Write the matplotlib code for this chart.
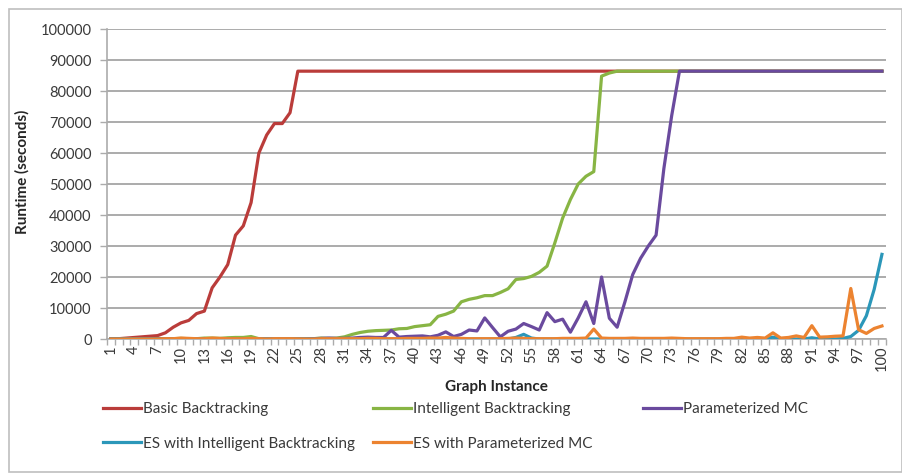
import matplotlib
matplotlib.use("Agg")
import matplotlib.pyplot as plt
from matplotlib.patches import Rectangle

plt.rcParams['font.family'] = ['Lato', 'DejaVu Sans']

# graph instances 1..100
instances = list(range(1, 101))

basic_bt = [
    0, 100, 300, 500, 700, 900, 1100, 2000, 3800, 5200,
    6000, 8200, 9000, 16500, 20000, 24000, 33500, 36500, 44000, 60000,
    65800, 69500, 69500, 73000, 86400, 86400, 86400, 86400, 86400, 86400,
    86400, 86400, 86400, 86400, 86400, 86400, 86400, 86400, 86400, 86400,
    86400, 86400, 86400, 86400, 86400, 86400, 86400, 86400, 86400, 86400,
    86400, 86400, 86400, 86400, 86400, 86400, 86400, 86400, 86400, 86400,
    86400, 86400, 86400, 86400, 86400, 86400, 86400, 86400, 86400, 86400,
    86400, 86400, 86400, 86400, 86400, 86400, 86400, 86400, 86400, 86400,
    86400, 86400, 86400, 86400, 86400, 86400, 86400, 86400, 86400, 86400,
    86400, 86400, 86400, 86400, 86400, 86400, 86400, 86400, 86400, 86400,
]

intelligent_bt = [
    0, 0, 50, 100, 100, 100, 150, 100, 100, 200,
    100, 100, 300, 300, 200, 400, 500, 500, 800, 100,
    0, 50, 50, 50, 50, 0, 100, 300, 200, 300,
    700, 1500, 2100, 2500, 2700, 2800, 2900, 3300, 3400, 4000,
    4300, 4600, 7300, 8000, 9000, 12000, 12800, 13300, 14000, 14000,
    15000, 16200, 19200, 19500, 20200, 21500, 23500, 31000, 39000, 45000,
    50000, 52500, 54000, 84800, 85800, 86400, 86400, 86400, 86400, 86400,
    86400, 86400, 86400, 86400, 86400, 86400, 86400, 86400, 86400, 86400,
    86400, 86400, 86400, 86400, 86400, 86400, 86400, 86400, 86400, 86400,
    86400, 86400, 86400, 86400, 86400, 86400, 86400, 86400, 86400, 86400,
]

param_mc = [
    0, 0, 0, 0, 0, 0, 0, 0, 0, 0,
    0, 0, 50, 50, 0, 50, 0, 0, 50, 0,
    0, 0, 0, 0, 0, 0, 100, 200, 300, 200,
    200, 300, 500, 600, 500, 500, 2800, 600, 800, 900,
    1000, 700, 1200, 2300, 800, 1500, 2900, 2600, 6800, 3700,
    700, 2500, 3200, 5000, 4000, 2900, 8500, 5600, 6400, 2200,
    6800, 12000, 5000, 20000, 6700, 3800, 12000, 20800, 26000, 30000,
    33500, 55000, 72000, 86400, 86400, 86400, 86400, 86400, 86400, 86400,
    86400, 86400, 86400, 86400, 86400, 86400, 86400, 86400, 86400, 86400,
    86400, 86400, 86400, 86400, 86400, 86400, 86400, 86400, 86400, 86400,
]

es_intelligent_bt = [
    0, 0, 0, 0, 0, 0, 0, 0, 0, 0,
    0, 0, 0, 0, 0, 0, 0, 0, 0, 0,
    0, 0, 0, 0, 0, 0, 0, 0, 0, 0,
    0, 0, 0, 0, 0, 0, 0, 0, 0, 0,
    0, 0, 0, 0, 0, 0, 0, 0, 0, 0,
    0, 0, 500, 1500, 300, 0, 0, 0, 0, 0,
    0, 0, 0, 0, 0, 0, 0, 0, 0, 0,
    0, 0, 0, 0, 0, 0, 0, 0, 0, 0,
    0, 0, 0, 0, 0, 600, 0, 0, 0, 0,
    400, 0, 0, 0, 200, 800, 2800, 7500, 16000, 27300,
]

es_param_mc = [
    0, 0, 0, 0, 0, 0, 0, 100, 100, 300,
    200, 100, 100, 300, 200, 100, 100, 100, 200, 100,
    0, 100, 100, 100, 50, 0, 0, 100, 100, 100,
    100, 100, 100, 200, 200, 100, 100, 100, 200, 200,
    200, 300, 300, 500, 300, 200, 100, 100, 100, 100,
    100, 200, 300, 200, 100, 100, 100, 100, 200, 200,
    200, 300, 3200, 300, 200, 200, 200, 300, 200, 200,
    200, 200, 300, 200, 100, 100, 100, 100, 100, 200,
    200, 600, 300, 500, 300, 2000, 300, 500, 1000, 500,
    4300, 600, 700, 900, 1000, 16300, 3000, 1800, 3400, 4200,
]

series = [
    ("Basic Backtracking", basic_bt, "#BA3C3A"),
    ("Intelligent Backtracking", intelligent_bt, "#88B544"),
    ("Parameterized MC", param_mc, "#6A4A9E"),
    ("ES with Intelligent Backtracking", es_intelligent_bt, "#2B97B9"),
    ("ES with Parameterized MC", es_param_mc, "#EC8330"),
]

yticks = list(range(0, 100001, 10000))
xlabels = list(range(1, 101, 3))

fig = plt.figure(figsize=(9.03, 4.74), dpi=100)
fig.patches.append(Rectangle((0.010, 0.004), 0.989, 0.976, transform=fig.transFigure,
                             fill=False, edgecolor="#BFBFBF", linewidth=1.2))
ax = fig.add_axes([0.1185, 0.2848, 0.8625, 0.654])

lines = []
for name, vals, col in series:
    ln, = ax.plot(instances, vals, color=col, linewidth=2.3, label=name,
                  solid_joinstyle="round", zorder=3)
    lines.append(ln)

ax.set_xlim(0.5, 100.5)
ax.set_ylim(0, 100000)
ax.set_yticks(yticks)
ax.set_yticklabels([str(v) for v in yticks])
ax.yaxis.grid(True, color="#ABABAB", linewidth=1.4)
ax.set_axisbelow(True)

# tick marks on category boundaries, labels on every third instance
ax.set_xticks([v + 0.5 for v in range(0, 101)])
ax.set_xticklabels([])
ax.set_xticks(xlabels, minor=True)
ax.set_xticklabels([str(v) for v in xlabels], minor=True, rotation=90)
ax.tick_params(axis="x", which="major", length=4, width=1, color="#ABABAB")
ax.tick_params(axis="x", which="minor", length=0, pad=5, labelsize=10.5, labelcolor="#3A3A3A")
ax.tick_params(axis="y", length=5, width=1, color="#ABABAB", labelsize=10.5,
               labelcolor="#3A3A3A", pad=6)

for s in ["top", "right"]:
    ax.spines[s].set_visible(False)
for s in ["left", "bottom"]:
    ax.spines[s].set_color("#ABABAB")
    ax.spines[s].set_linewidth(1.2)

ax.set_xlabel("Graph Instance", fontsize=11, fontweight="bold", color="#262626", labelpad=6)
ax.set_ylabel("Runtime (seconds)", fontsize=11, fontweight="bold", color="#262626")
ax.yaxis.set_label_coords(-0.099, 0.54)

# legend: three evenly spaced columns, filled row by row
cols = [[lines[0], lines[3]], [lines[1], lines[4]], [lines[2]]]
xs = [0.114, 0.413, 0.712]
for handles, x0 in zip(cols, xs):
    leg = fig.legend(handles=handles, loc="upper left", bbox_to_anchor=(x0, 0.152),
                     frameon=False, fontsize=11, handlelength=2.5, handletextpad=0.1,
                     labelspacing=1.35, borderaxespad=0, borderpad=0)
    for t in leg.get_texts():
        t.set_color("#3A3A3A")

fig.savefig("out.png", dpi=100)
